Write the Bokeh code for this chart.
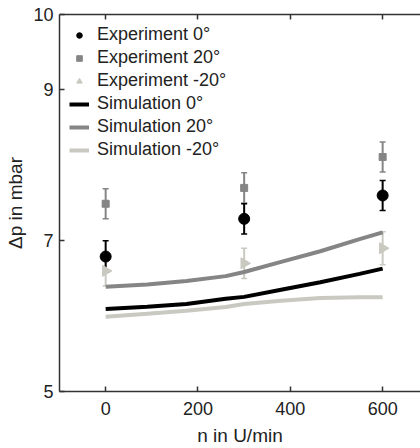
import numpy as np
from bokeh.plotting import figure
from bokeh.models import (Range1d, FixedTicker, LinearAxis, Whisker, ColumnDataSource,
                          TeeHead, Legend, LegendItem)
from bokeh.embed import file_html
from bokeh.resources import INLINE

# ---- data ----
exp_x = [0, 300, 600]
exp0_y = [6.79, 7.29, 7.60]
exp0_err = [0.21, 0.20, 0.20]
exp20_y = [7.49, 7.70, 8.11]
exp20_err = [0.20, 0.20, 0.20]
expm20_y = [6.60, 6.70, 6.90]
expm20_err = [0.20, 0.20, 0.22]

sim_x = [0, 90, 175, 260, 300, 380, 465, 550, 600]
sim0_y = [6.095, 6.125, 6.16, 6.23, 6.255, 6.35, 6.45, 6.56, 6.63]
sim20_y = [6.39, 6.42, 6.465, 6.53, 6.585, 6.72, 6.86, 7.02, 7.11]
simm20_y = [5.99, 6.03, 6.07, 6.12, 6.16, 6.205, 6.24, 6.25, 6.25]

x_ticks = [0, 200, 400, 600]
y_ticks = [5, 7, 9, 10]

BLACK = "#000000"
GRAY = "#858585"
LIGHT = "#c9c9c2"
FONT = "Liberation Sans"

p = figure(width=420, height=448, output_backend="svg", toolbar_location=None,
           x_range=Range1d(-100, 682), y_range=Range1d(5, 10),
           min_border_left=59, min_border_right=0, min_border_top=14, min_border_bottom=55,
           x_axis_location=None, y_axis_location=None)
p.outline_line_color = None
p.grid.visible = False
p.background_fill_color = "white"
p.border_fill_color = "white"

def style_axis(ax):
    ax.axis_line_color = "#333333"
    ax.axis_line_width = 1.5
    ax.major_tick_line_color = "#333333"
    ax.major_tick_line_width = 1.5
    ax.major_tick_in = 5
    ax.major_tick_out = 0
    ax.minor_tick_line_color = None
    ax.major_label_text_font = FONT
    ax.major_label_text_font_size = "18px"
    ax.major_label_text_color = "#222222"
    ax.axis_label_text_font = FONT
    ax.axis_label_text_font_size = "19px"
    ax.axis_label_text_font_style = "normal"
    ax.axis_label_text_color = "#222222"

xb = LinearAxis(ticker=FixedTicker(ticks=x_ticks), axis_label="n in U/min")
style_axis(xb)
xb.major_label_standoff = 10
xb.axis_label_standoff = 7
p.add_layout(xb, "below")

xa = LinearAxis(ticker=FixedTicker(ticks=x_ticks))
style_axis(xa)
xa.major_label_overrides = {t: "" for t in x_ticks}
xa.major_label_standoff = 0
p.add_layout(xa, "above")

yl = LinearAxis(ticker=FixedTicker(ticks=y_ticks), axis_label="Δp in mbar")
style_axis(yl)
yl.major_label_standoff = 6
yl.axis_label_standoff = 4
p.add_layout(yl, "left")

# simulations
l0 = p.line(sim_x, sim0_y, line_color=BLACK, line_width=4)
l20 = p.line(sim_x, sim20_y, line_color=GRAY, line_width=4)
lm20 = p.line(sim_x, simm20_y, line_color=LIGHT, line_width=4)

# experiments with error bars
def exp_series(ys, errs, color, marker, size, angle=0.0):
    src = ColumnDataSource(dict(x=exp_x, y=ys,
                                up=[a + b for a, b in zip(ys, errs)],
                                lo=[a - b for a, b in zip(ys, errs)]))
    w = Whisker(source=src, base="x", upper="up", lower="lo", dimension="height",
                line_color=color, line_width=2,
                upper_head=TeeHead(size=6, line_color=color, line_width=1.5),
                lower_head=TeeHead(size=6, line_color=color, line_width=1.5))
    p.add_layout(w)
    r = p.scatter("x", "y", source=src, marker=marker, size=size, angle=angle,
                  fill_color=color, line_color=color)
    return r

e20 = exp_series(exp20_y, exp20_err, GRAY, "square", 7)
em20 = exp_series(expm20_y, expm20_err, LIGHT, "triangle", 11, angle=-np.pi / 2)
e0 = exp_series(exp0_y, exp0_err, BLACK, "circle", 11)

legend = Legend(items=[
    LegendItem(label="Experiment 0°", renderers=[e0]),
    LegendItem(label="Experiment 20°", renderers=[e20]),
    LegendItem(label="Experiment -20°", renderers=[em20]),
    LegendItem(label="Simulation 0°", renderers=[l0]),
    LegendItem(label="Simulation 20°", renderers=[l20]),
    LegendItem(label="Simulation -20°", renderers=[lm20]),
], location="top_left")
legend.border_line_color = None
legend.background_fill_alpha = 0
legend.label_text_font = FONT
legend.label_text_font_size = "18px"
legend.label_text_color = "#222222"
legend.glyph_width = 20
legend.glyph_height = 14
legend.label_height = 20
legend.label_standoff = 8
legend.spacing = 2
legend.padding = 9
legend.margin = 10
p.add_layout(legend)

open("out.html", "w").write(file_html(p, INLINE))
